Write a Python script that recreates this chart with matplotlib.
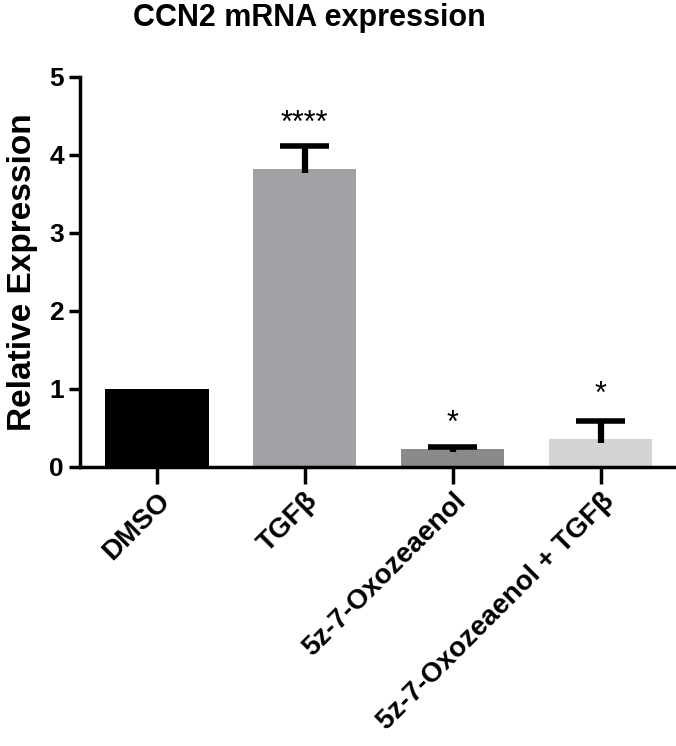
import matplotlib.pyplot as plt

plt.rcParams['font.family'] = ['Liberation Sans', 'DejaVu Sans']
plt.rcParams['font.weight'] = 'bold'

groups = ["DMSO", "TGF\u03b2", "5z-7-Oxozeaenol", "5z-7-Oxozeaenol + TGF\u03b2"]
means = [1.0, 3.82, 0.23, 0.36]
err_low = [0.0, 0.05, 0.04, 0.05]
err_high = [0.0, 0.30, 0.03, 0.23]
stars = ["", "****", "*", "*"]
star_y = [0, 4.40, 0.55, 0.92]
colors = ["#000000", "#a1a1a6", "#8a8a8a", "#d4d4d4"]

fig = plt.figure(figsize=(6.76, 7.46), dpi=100)
ax = fig.add_axes([0.118, 0.374, 0.88, 0.523])

x = list(range(len(groups)))
ax.bar(x, means, width=0.7, color=colors, zorder=2)

# error bars, upper side only with a short stem below the bar top
for xi, m, lo, hi in zip(x, means, err_low, err_high):
    if hi == 0:
        continue
    ax.vlines(xi, m - lo, m + hi, color='black', linewidth=4.5, zorder=3)
    ax.hlines(m + hi, xi - 0.165, xi + 0.165, color='black', linewidth=4, zorder=3)

for xi, s, sy in zip(x, stars, star_y):
    if s:
        ax.text(xi, sy, s, ha='center', va='center', fontsize=22, fontweight='normal')

ax.set_xlim(-0.52, 3.5)
ax.set_ylim(0, 5)
ax.set_yticks([0, 1, 2, 3, 4, 5])
ax.set_xticks(x)
ax.set_xticklabels(groups, rotation=45, ha='right', rotation_mode='anchor', fontsize=20)
ax.tick_params(axis='y', labelsize=19, width=2.5, length=8)
ax.tick_params(axis='x', width=2.5, length=12, pad=3)
for side in ['top', 'right']:
    ax.spines[side].set_visible(False)
for side in ['left', 'bottom']:
    ax.spines[side].set_linewidth(2.5)

ax.set_ylabel("Relative Expression", fontsize=24, fontweight='bold', labelpad=8)
fig.text(0.457, 0.976, "CCN2 mRNA expression", ha='center', va='center',
         fontsize=22, fontweight='bold')

fig.savefig("out.png", dpi=100)
